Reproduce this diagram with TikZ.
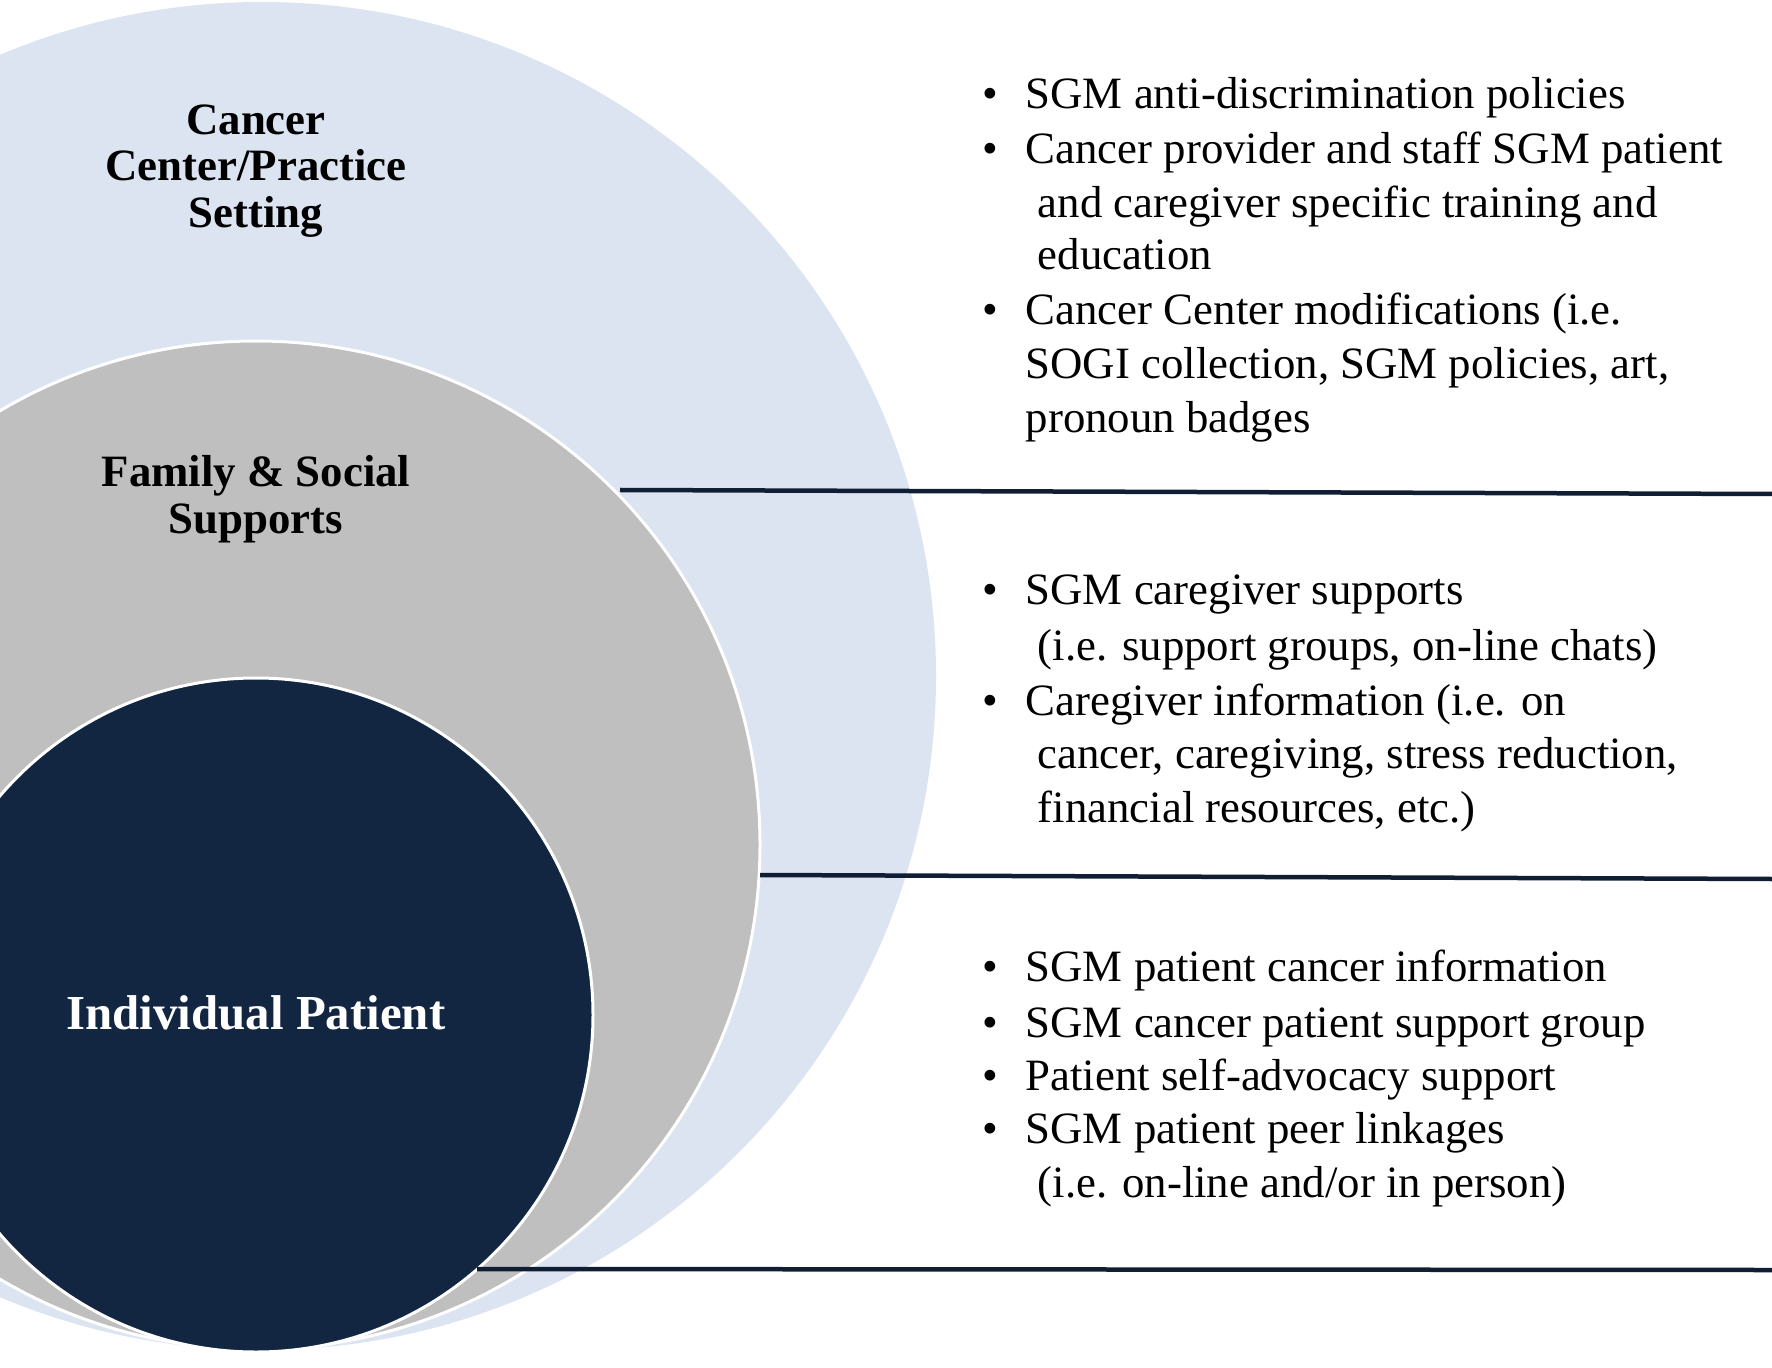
\documentclass[tikz,border=0pt]{standalone}
\usepackage{fontspec}
\setmainfont{Liberation Serif}
\definecolor{ringlight}{HTML}{DBE4F0}
\definecolor{ringgray}{HTML}{BFBFBF}
\definecolor{ringnavy}{HTML}{122642}
\definecolor{linecol}{HTML}{0F1E33}
\begin{document}
\begin{tikzpicture}[x=0.1mm,y=-0.1mm,
  sepline/.style={draw=linecol, line width=0.45mm},
  ringedge/.style={draw=white, line width=0.3mm},
  lbl/.style={inner sep=0, align=center, font=\bfseries\fontsize{12.75}{13.3}\selectfont},
  txt/.style={anchor=base west, inner sep=0, font=\fontsize{12.75}{15.3}\selectfont},
  bul/.style={anchor=base, inner sep=0, font=\fontsize{12.75}{15.3}\selectfont}]
\useasboundingbox (0,0) rectangle (1772,1368);
\clip (0,0) rectangle (1772,1368);
\fill[white] (0,0) rectangle (1772,1368);
% rings
\fill[ringlight] (262,676) circle[radius=67.4mm];
\filldraw[fill=ringgray, ringedge] (256,845) circle[radius=50.4mm];
\filldraw[fill=ringnavy, ringedge] (256,1015) circle[radius=33.7mm];
% ring labels
\node[lbl] (cc) at (256,171) {Cancer\\Center/Practice\\Setting};
\node[lbl] (fs) at (256,499) {Family \& Social\\Supports};
\node[lbl, text=white, font=\bfseries\fontsize{13.9}{15}\selectfont] (ip) at (256,1013) {Individual Patient};
% separator lines
\coordinate (l1s) at (620,490);
\coordinate (l1e) at (1772,494);
\coordinate (l2s) at (760,875);
\coordinate (l2e) at (1772,879);
\coordinate (l3s) at (477,1269);
\coordinate (l3e) at (1772,1270);
\draw[sepline] (l1s) -- (l1e);
\draw[sepline] (l2s) -- (l2e);
\draw[sepline] (l3s) -- (l3e);
% block 1
\node[bul] (b11) at (990,109) {•};
\node[txt] (t11) at (1025,109) {SGM anti-discrimination policies};
\node[bul] (b12) at (990,164) {•};
\node[txt] (t12) at (1025,164) {Cancer provider and staff SGM patient};
\node[txt] (t13) at (1037,218) {and caregiver specific training and};
\node[txt] (t14) at (1037,270) {education};
\node[bul] (b13) at (990,325) {•};
\node[txt] (t15) at (1025,325) {Cancer Center modifications (i.e.};
\node[txt] (t16) at (1025,379) {SOGI collection, SGM policies, art,};
\node[txt] (t17) at (1025,433) {pronoun badges};
% block 2
\node[bul] (b21) at (990,605) {•};
\node[txt] (t21) at (1025,605) {SGM caregiver supports};
\node[txt] (t22) at (1037,660) {(i.e. support groups, on-line chats)};
\node[bul] (b22) at (990,715) {•};
\node[txt] (t23) at (1025,715) {Caregiver information (i.e. on};
\node[txt] (t24) at (1037,768) {cancer, caregiving, stress reduction,};
\node[txt] (t25) at (1037,822) {financial resources, etc.)};
% block 3
\node[bul] (b31) at (990,981) {•};
\node[txt] (t31) at (1025,981) {SGM patient cancer information};
\node[bul] (b32) at (990,1037) {•};
\node[txt] (t32) at (1025,1037) {SGM cancer patient support group};
\node[bul] (b33) at (990,1090) {•};
\node[txt] (t33) at (1025,1090) {Patient self-advocacy support};
\node[bul] (b34) at (990,1143) {•};
\node[txt] (t34) at (1025,1143) {SGM patient peer linkages};
\node[txt] (t35) at (1037,1197) {(i.e. on-line and/or in person)};
\end{tikzpicture}
\end{document}
